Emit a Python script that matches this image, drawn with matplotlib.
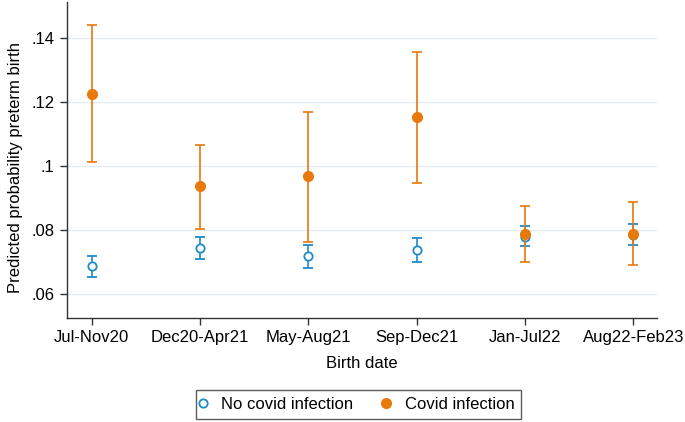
import matplotlib
matplotlib.use("Agg")
import matplotlib.pyplot as plt
from matplotlib.lines import Line2D

plt.rcParams['font.family'] = ['Liberation Sans', 'DejaVu Sans']

categories = ["Jul-Nov20", "Dec20-Apr21", "May-Aug21", "Sep-Dec21", "Jan-Jul22", "Aug22-Feb23"]

no_covid = [0.0688, 0.0745, 0.0719, 0.0737, 0.0780, 0.0785]
no_covid_lo = [0.0654, 0.0710, 0.0683, 0.0700, 0.0749, 0.0752]
no_covid_hi = [0.0720, 0.0780, 0.0755, 0.0775, 0.0814, 0.0819]

covid = [0.1227, 0.0937, 0.0968, 0.1155, 0.0788, 0.0788]
covid_lo = [0.1012, 0.0805, 0.0764, 0.0949, 0.0701, 0.0691]
covid_hi = [0.1442, 0.1066, 0.1169, 0.1358, 0.0877, 0.0889]

yticks = [0.06, 0.08, 0.10, 0.12, 0.14]
yticklabels = [".06", ".08", ".1", ".12", ".14"]

blue = "#1f8bc9"
orange = "#e8790c"

fig = plt.figure(figsize=(6.85, 4.22), dpi=100)
ax = fig.add_axes([67/685, 1 - 317.7/422, (657-67)/685, (317.7-2)/422])

x = list(range(len(categories)))

ax.errorbar(x, no_covid,
            yerr=[[m - l for m, l in zip(no_covid, no_covid_lo)],
                  [h - m for m, h in zip(no_covid, no_covid_hi)]],
            fmt='o', color=blue, ecolor=blue, elinewidth=1.2, capsize=3.5, capthick=1.2,
            markersize=6, markerfacecolor='white', markeredgecolor=blue, markeredgewidth=1.3,
            zorder=3)
ax.errorbar(x, covid,
            yerr=[[m - l for m, l in zip(covid, covid_lo)],
                  [h - m for m, h in zip(covid, covid_hi)]],
            fmt='o', color=orange, ecolor=orange, elinewidth=1.2, capsize=3.5, capthick=1.2,
            markersize=7, markerfacecolor=orange, markeredgecolor=orange,
            zorder=4)

ax.set_xlim(-0.228, 5.22)
ax.set_ylim(0.0526, 0.1514)
ax.set_xticks(x)
ax.set_xticklabels(categories, fontsize=12)
ax.set_yticks(yticks)
ax.set_yticklabels(yticklabels, fontsize=12)
ax.yaxis.grid(True, color="#e3ecf0", linewidth=1.0)
ax.set_axisbelow(True)
for s in ["top", "right"]:
    ax.spines[s].set_visible(False)
for s in ["left", "bottom"]:
    ax.spines[s].set_color("#333333")
    ax.spines[s].set_linewidth(1.0)
ax.tick_params(axis='both', direction='out', length=5, width=1.0, color="#333333", pad=4)

ax.set_xlabel("Birth date", fontsize=12, labelpad=8)
ax.set_ylabel("Predicted probability preterm birth", fontsize=12, labelpad=6)
ax.yaxis.label.set_y(0.475)

handles = [
    Line2D([], [], linestyle='none', marker='o', markersize=6, markerfacecolor='white',
           markeredgecolor=blue, markeredgewidth=1.3),
    Line2D([], [], linestyle='none', marker='o', markersize=7, markerfacecolor=orange,
           markeredgecolor=orange),
]
leg = fig.legend(handles, ["No covid infection", "Covid infection"], loc='center',
                 bbox_to_anchor=(358.5/685, 1 - 404.5/422), ncol=2, fontsize=12,
                 frameon=True, fancybox=False, edgecolor='#333333', handletextpad=1.1,
                 columnspacing=2.0, borderpad=0.42, handlelength=0)
leg.get_frame().set_linewidth(1.0)

fig.savefig("out.png", dpi=100)
